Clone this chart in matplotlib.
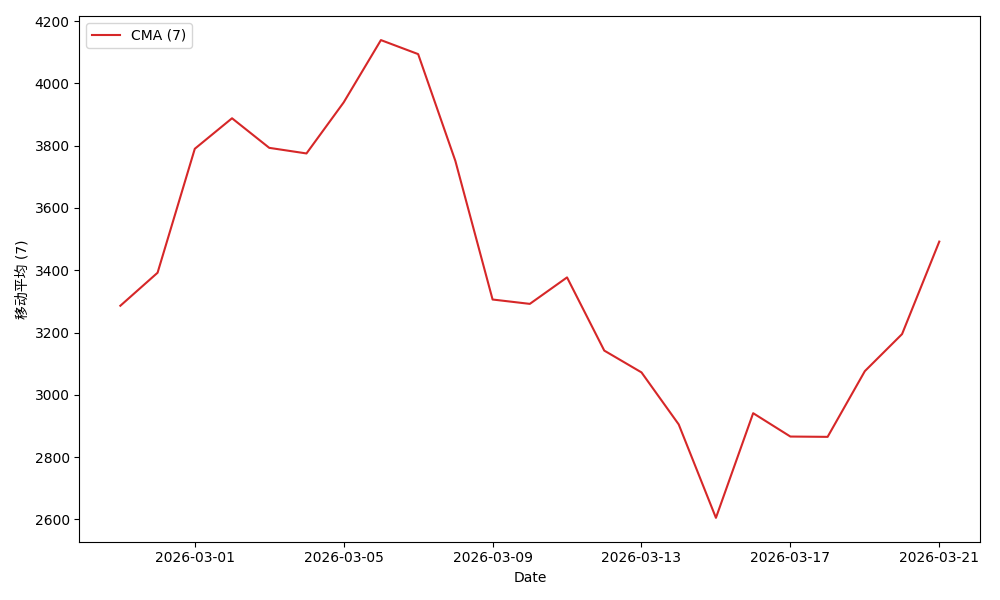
import matplotlib
matplotlib.use("Agg")
import matplotlib.pyplot as plt
import pandas as pd

plt.rcParams['font.family'] = ['DejaVu Sans', 'Noto Sans CJK SC']

# CMA (7) values
dates = pd.date_range("2026-02-27", "2026-03-21", freq="D")
cma_values = [3286, 3392, 3790, 3888, 3793, 3775, 3939, 4139, 4094, 3751,
              3306, 3292, 3377, 3142, 3072, 2905, 2605, 2941, 2866, 2865,
              3076, 3195, 3492]
tick_dates = pd.date_range("2026-03-01", "2026-03-21", freq="4D")

fig, ax = plt.subplots(figsize=(10, 6), dpi=100)
ax.plot(dates, cma_values, color="tab:red", label="CMA (7)")
ax.set_xticks(tick_dates)
ax.set_xticklabels([d.strftime("%Y-%m-%d") for d in tick_dates])
ax.set_xlabel("Date")
ax.set_ylabel("移动平均 (7)")
ax.legend(loc="upper left")

plt.tight_layout()
plt.savefig("out.png")
